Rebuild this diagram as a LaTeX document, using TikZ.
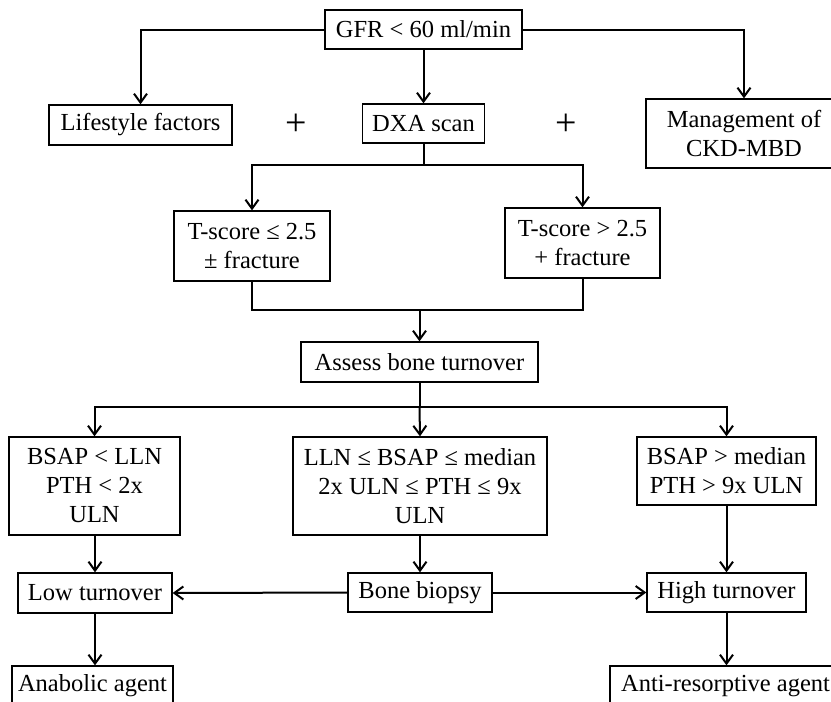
\documentclass[tikz,border=0pt]{standalone}
\usepackage{fontspec}
\setmainfont{Liberation Serif}
\usetikzlibrary{arrows.meta}
\begin{document}
\begin{tikzpicture}[x=1pt,y=-1pt,
  box/.style={draw=black,line width=1.3pt,inner sep=0pt,align=center,
    font=\fontsize{24.5}{29}\selectfont},
  conn/.style={draw=black,line width=2pt},
  arr/.style={conn,-{Straight Barb[length=9pt,width=13pt,line width=2pt]}},
  plussign/.style={inner sep=0pt,font=\fontsize{38}{38}\selectfont}]
\useasboundingbox (0,0) rectangle (831,702);
\clip (0,0) rectangle (831,702);
\fill[white] (0,0) rectangle (831,702);
% nodes
\node[box,minimum width=197pt,minimum height=39pt] (gfr) at (423.5,29.5) {GFR < 60 ml/min};
\node[box,minimum width=183pt,minimum height=40pt] (life) at (140.5,125) {Lifestyle factors};
\node[box,minimum width=122pt,minimum height=39pt] (dxa) at (423.5,123.5) {DXA scan};
\node[box,minimum width=196pt,minimum height=69pt] (mgmt) at (744,133.5) {Management of\\CKD-MBD};
\node[plussign] (p1) at (296,125) {+};
\node[plussign] (p2) at (566,125) {+};
\node[box,minimum width=156pt,minimum height=70pt] (ts1) at (252,246) {T-score ≤ 2.5\\± fracture};
\node[box,minimum width=155pt,minimum height=70pt] (ts2) at (582.5,243) {T-score > 2.5\\+ fracture};
\node[box,minimum width=237pt,minimum height=40pt] (assess) at (419.5,362) {Assess bone turnover};
\node[box,minimum width=171pt,minimum height=98pt] (b1) at (94.5,486) {BSAP < LLN\\PTH < 2x\\ULN};
\node[box,minimum width=254pt,minimum height=98pt] (b2) at (420,486) {LLN ≤ BSAP ≤ median\\2x ULN ≤ PTH ≤ 9x\\ULN};
\node[box,minimum width=179pt,minimum height=68pt] (b3) at (726.5,471) {BSAP > median\\PTH > 9x ULN};
\node[box,minimum width=154pt,minimum height=40pt] (low) at (95,593) {Low turnover};
\node[box,minimum width=144pt,minimum height=39pt] (bio) at (420,592.5) {Bone biopsy};
\node[box,minimum width=159pt,minimum height=39pt] (high) at (726.5,592.5) {High turnover};
\node[box,minimum width=161pt,minimum height=40pt] (anab) at (92.5,686) {Anabolic agent};
\node[box,minimum width=231pt,minimum height=40pt] (anti) at (725.5,686) {Anti-resorptive agent};
% junctions
\coordinate (j1) at (423.5,165);
\coordinate (j2) at (419.5,310);
\coordinate (j3) at (419.5,407);
% connectors
\draw[arr] (gfr.west) -| (life.north);
\draw[arr] (gfr.south) -- (dxa.north);
\draw[arr] (gfr.east) -| (mgmt.north);
\draw[conn] (dxa.south) -- (j1);
\draw[arr] (j1) -| (ts1.north);
\draw[arr] (j1) -| (ts2.north);
\draw[conn] (ts1.south) |- (j2);
\draw[conn] (ts2.south) |- (j2);
\draw[arr] (j2) -- (assess.north);
\draw[conn] (assess.south) -- (j3);
\draw[arr] (j3) -| (b1.north);
\draw[arr] (j3) -- (b2.north);
\draw[arr] (j3) -| (b3.north);
\draw[arr] (low.north |- b1.south) -- (low.north);
\draw[arr] (b2.south) -- (bio.north);
\draw[arr] (b3.south) -- (high.north);
\draw[arr] (bio.west) -- (low.east);
\draw[arr] (bio.east) -- (high.west);
\draw[arr] (low.south) -- (low.south |- anab.north);
\draw[arr] (high.south) -- (high.south |- anti.north);
\end{tikzpicture}
\end{document}
